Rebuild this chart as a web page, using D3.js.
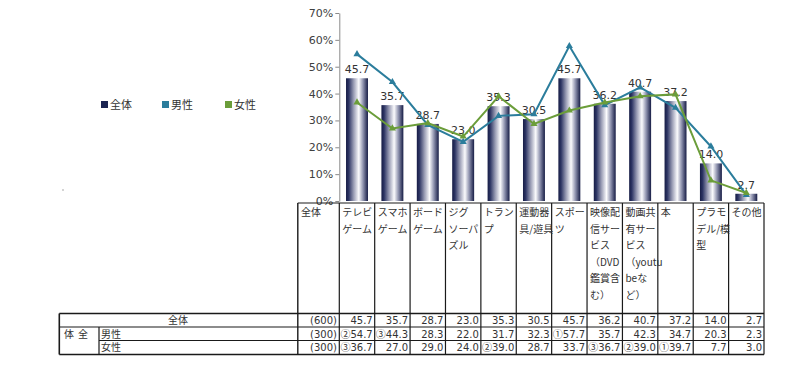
<!DOCTYPE html>
<html><head><meta charset="utf-8">
<script src="https://cdn.jsdelivr.net/npm/d3@7"></script>
<style>body{margin:0;background:#fff;}svg{display:block;}</style>
</head><body>
<svg id="c" width="800" height="369"></svg>
<script>
const categories = ["テレビゲーム","スマホゲーム","ボードゲーム","ジグソーパズル","トランプ","運動器具/遊具","スポーツ","映像配信サービス（DVD鑑賞含む）","動画共有サービス（youtubeなど）","本","プラモデル/模型","その他"];
const headerLines = [["テレビ","ゲーム"],["スマホ","ゲーム"],["ボード","ゲーム"],["ジグ","ソーパ","ズル"],["トラン","プ"],["運動器","具/遊具"],["スポー","ツ"],["映像配","信サー","ビス","（DVD","鑑賞含","む）"],["動画共","有サー","ビス","（youtu","beな","ど）"],["本"],["プラモ","デル/模","型"],["その他"]];
const seriesNames = ["全体","男性","女性"];
const totalVals = [45.7,35.7,28.7,23.0,35.3,30.5,45.7,36.2,40.7,37.2,14.0,2.7];
const maleVals  = [54.7,44.3,28.3,22.0,31.7,32.3,57.7,35.7,42.3,34.7,20.3,2.3];
const femaleVals= [36.7,27.0,29.0,24.0,39.0,28.7,33.7,36.7,39.0,39.7,7.7,3.0];
const sampleN = ["(600)","(300)","(300)"];
const maleRank = ["②","③","","","","","①","","","","",""];
const femaleRank = ["③","","","","②","","","③","②","①","",""];
const yTicks = [0,10,20,30,40,50,60,70];

const colors = {total:"#1b2452", male:"#2b7d9c", female:"#6b9d3a"};
const JP = "'Noto Sans CJK JP','Noto Sans',sans-serif";
const NUM = "'DejaVu Sans',sans-serif";
const svg = d3.select("#c");

const x = d3.scaleBand().domain(categories).range([339.3,764]).paddingInner(0.38).paddingOuter(0.19);
const y = d3.scaleLinear().domain([0,70]).range([201,13]);

// gradient
const defs = svg.append("defs");
const g = defs.append("linearGradient").attr("id","bg").attr("x1","0").attr("x2","1").attr("y1","0").attr("y2","0");
[[0,"#161c45"],[0.12,"#2c3463"],[0.35,"#9a9db5"],[0.58,"#fbfbfd"],[0.78,"#8d91ad"],[1,"#161c45"]].forEach(s=>g.append("stop").attr("offset",s[0]).attr("stop-color",s[1]));

// y axis
const ya = svg.append("g").attr("transform","translate(339.3,0)")
  .call(d3.axisLeft(y).tickValues(yTicks).tickFormat(d=>d+"%").tickSize(4).tickSizeOuter(0));
ya.select(".domain").attr("stroke","#8a8a8a");
ya.selectAll(".tick line").attr("stroke","#8a8a8a");
ya.selectAll(".tick text").attr("fill","#404040").attr("font-size","11px").attr("font-family",NUM).attr("x",-6);

// bars
svg.append("g").selectAll("rect").data(categories).join("rect")
  .attr("x",d=>x(d)).attr("width",x.bandwidth())
  .attr("y",(d,i)=>y(totalVals[i])).attr("height",(d,i)=>y(0)-y(totalVals[i]))
  .attr("fill","url(#bg)");

// bar labels
svg.append("g").selectAll("text").data(categories).join("text")
  .attr("x",d=>x(d)+x.bandwidth()/2).attr("y",(d,i)=>y(totalVals[i])-5)
  .attr("text-anchor","middle").attr("font-size","11px").attr("fill","#333")
  .attr("font-family",NUM)
  .text((d,i)=>totalVals[i].toFixed(1));

// lines
const line = d3.line().x((d,i)=>x(categories[i])+x.bandwidth()/2).y(d=>y(d));
const tri = d3.symbol().type(d3.symbolTriangle).size(22);
[[maleVals,colors.male],[femaleVals,colors.female]].forEach(([vals,c])=>{
  svg.append("path").datum(vals).attr("d",line).attr("fill","none").attr("stroke",c).attr("stroke-width",2);
  svg.append("g").selectAll("path").data(vals).join("path")
    .attr("d",tri).attr("fill",c)
    .attr("transform",(d,i)=>`translate(${x(categories[i])+x.bandwidth()/2},${y(d)})`);
});

// legend
const legX = [101,162,225];
const legC = [colors.total,colors.male,colors.female];
seriesNames.forEach((n,i)=>{
  svg.append("rect").attr("x",legX[i]).attr("y",101).attr("width",7).attr("height",7).attr("fill",legC[i]);
  svg.append("text").attr("x",legX[i]+9).attr("y",108.5).attr("font-size","11px").attr("fill","#333").attr("font-family",JP).text(n);
});
svg.append("rect").attr("x",62.5).attr("y",189).attr("width",1).attr("height",2).attr("fill","#aaa");

// table
const T = svg.append("g");
const lc = "#1a1a1a";
const edges = [297.8,339.3];
categories.forEach((c,i)=>edges.push(339.3+x.step()*(i+1)));
const hTop=203, hBot=313.5, r1=327, r2=340.5, r3=354.5, leftX=59.3, subX=99;
function ln(x1,y1,x2,y2,w){T.append("line").attr("x1",x1).attr("y1",y1).attr("x2",x2).attr("y2",y2).attr("stroke",lc).attr("stroke-width",w||1.2);}
ln(297.8,hTop,764,hTop);
ln(leftX,hBot,764,hBot,1.4);
ln(leftX,r1,764,r1);
ln(subX,r2,764,r2);
ln(leftX,r3,764,r3,1.4);
edges.forEach((e,i)=>ln(e,hTop,e,r3,i===0?1.4:1.2));
ln(leftX,hBot,leftX,r3,1.6);
ln(subX,r1,subX,r3);

// header text
T.append("text").attr("x",301).attr("y",216).attr("font-size","10px").attr("fill","#333").attr("font-family",JP).text("全体");
headerLines.forEach((lines,i)=>{
  lines.forEach((t,j)=>{
    T.append("text").attr("x",edges[i+1]+3).attr("y",216+j*16.6)
      .attr("font-size","10px").attr("fill","#333").attr("font-family",JP).text(t);
  });
});

// body text
const fs="10px";
T.append("text").attr("x",178).attr("y",324).attr("text-anchor","middle").attr("font-size",fs).attr("fill","#333").attr("font-family",JP).text("全体");
T.append("text").attr("x",64).attr("y",337.5).attr("font-size",fs).attr("fill","#333").attr("font-family",JP).text("体");
T.append("text").attr("x",78).attr("y",337.5).attr("font-size",fs).attr("fill","#333").attr("font-family",JP).text("全");
T.append("text").attr("x",101).attr("y",337.5).attr("font-size",fs).attr("fill","#333").attr("font-family",JP).text("男性");
T.append("text").attr("x",101).attr("y",351).attr("font-size",fs).attr("fill","#333").attr("font-family",JP).text("女性");
const rowsY=[324,337.5,351];
sampleN.forEach((n,k)=>T.append("text").attr("x",337).attr("y",rowsY[k]).attr("text-anchor","end").attr("font-size",fs).attr("fill","#333").attr("font-family",NUM).text(n));
const rowsVals=[[totalVals,null],[maleVals,maleRank],[femaleVals,femaleRank]];
rowsVals.forEach(([vals,rk],k)=>{
  vals.forEach((v,i)=>{
    const t = T.append("text").attr("x",edges[i+2]-2).attr("y",rowsY[k]).attr("text-anchor","end")
      .attr("font-size",fs).attr("fill","#333").attr("font-family",NUM);
    if(rk && rk[i]) t.append("tspan").attr("font-family",JP).text(rk[i]);
    t.append("tspan").text(v.toFixed(1));
  });
});
</script>
</body></html>
